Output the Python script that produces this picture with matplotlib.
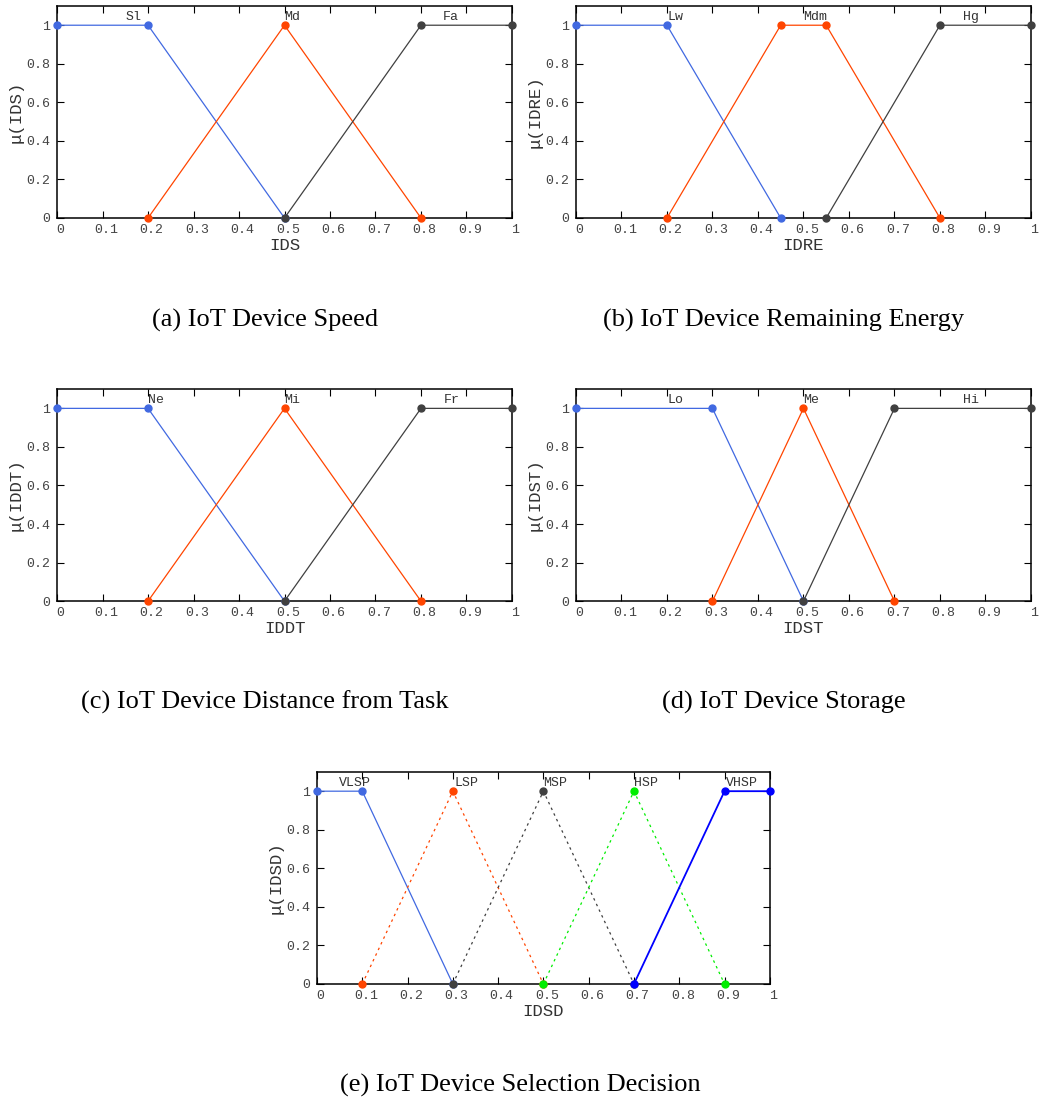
import numpy as np
import matplotlib.pyplot as plt
import matplotlib.transforms as mtransforms

plt.rcParams['font.family'] = ['Liberation Mono', 'DejaVu Sans Mono']

# -----------------------------
# Data: membership functions (x breakpoints, y values)
# -----------------------------
ids_names = ["Sl", "Md", "Fa"]
ids_x = [[0, 0.2, 0.5], [0.2, 0.5, 0.8], [0.5, 0.8, 1.0]]
ids_y = [[1, 1, 0], [0, 1, 0], [0, 1, 1]]
ids_lbl_x = [0.169, 0.517, 0.866]

idre_names = ["Lw", "Mdm", "Hg"]
idre_x = [[0, 0.2, 0.45], [0.2, 0.45, 0.55, 0.8], [0.55, 0.8, 1.0]]
idre_y = [[1, 1, 0], [0, 1, 1, 0], [0, 1, 1]]
idre_lbl_x = [0.218, 0.526, 0.868]

iddt_names = ["Ne", "Mi", "Fr"]
iddt_x = [[0, 0.2, 0.5], [0.2, 0.5, 0.8], [0.5, 0.8, 1.0]]
iddt_y = [[1, 1, 0], [0, 1, 0], [0, 1, 1]]
iddt_lbl_x = [0.218, 0.517, 0.868]

idst_names = ["Lo", "Me", "Hi"]
idst_x = [[0, 0.3, 0.5], [0.3, 0.5, 0.7], [0.5, 0.7, 1.0]]
idst_y = [[1, 1, 0], [0, 1, 0], [0, 1, 1]]
idst_lbl_x = [0.218, 0.517, 0.868]

idsd_names = ["VLSP", "LSP", "MSP", "HSP", "VHSP"]
idsd_x = [[0, 0.1, 0.3], [0.1, 0.3, 0.5], [0.3, 0.5, 0.7], [0.5, 0.7, 0.9], [0.7, 0.9, 1.0]]
idsd_y = [[1, 1, 0], [0, 1, 0], [0, 1, 0], [0, 1, 0], [0, 1, 1]]
idsd_lbl_x = [0.084, 0.33, 0.525, 0.726, 0.938]

c3 = ["#4169e1", "#ff4500", "#404040"]
c5 = ["#4169e1", "#ff4500", "#404040", "#00ee00", "#0000ff"]
ls5 = ["-", (0, (2, 3)), (0, (2, 3)), (0, (2, 3)), "-"]
lw5 = [0.9, 0.9, 0.9, 0.9, 1.3]

fig = plt.figure(figsize=(10.41, 11.01), dpi=100)


def panel(rect, xs, ys, names, lbl_x, colors, xlabel, ylabel, styles=None, widths=None):
    ax = fig.add_axes(rect)
    for i in range(len(xs)):
        ls = styles[i] if styles else "-"
        lw = widths[i] if widths else 0.9
        ax.plot(xs[i], ys[i], color=colors[i], ls=ls, lw=lw, marker="o", ms=5,
                clip_on=False, zorder=3 + i)
        ax.text(lbl_x[i], 1.045, names[i], ha="center", va="center", fontsize=9.5,
                color="#333333")
    ax.set_xlim(0, 1)
    ax.set_ylim(0, 1.1)
    ax.set_xticks(np.arange(0, 1.01, 0.1))
    ax.set_xticklabels(["0", "0.1", "0.2", "0.3", "0.4", "0.5", "0.6", "0.7", "0.8", "0.9", "1"])
    ax.set_yticks([0, 0.2, 0.4, 0.6, 0.8, 1.0])
    ax.set_yticklabels(["0", "0.2", "0.4", "0.6", "0.8", "1"])
    ax.tick_params(direction="in", top=True, right=True, length=5, width=0.8,
                   labelsize=9.5, labelcolor="#444444")
    ax.tick_params(axis="x", pad=4)
    ax.tick_params(axis="y", pad=5)
    off = mtransforms.ScaledTranslation(3.5 / 100, 0, fig.dpi_scale_trans)
    for lab in ax.get_xticklabels():
        lab.set_transform(lab.get_transform() + off)
    for s in ax.spines.values():
        s.set_linewidth(1.1)
    ax.set_xlabel(xlabel, fontsize=12.5, color="#333333", labelpad=1.5)
    ax.set_ylabel("μ(" + ylabel + ")", fontsize=12.5, color="#333333", labelpad=2)
    return ax


W = 0.437
H = 0.1926
panel([0.0548, 0.802, W, H], ids_x, ids_y, ids_names, ids_lbl_x, c3, "IDS", "IDS")
panel([0.5533, 0.802, W, H], idre_x, idre_y, idre_names, idre_lbl_x, c3, "IDRE", "IDRE")
panel([0.0548, 0.454, W, H], iddt_x, iddt_y, iddt_names, iddt_lbl_x, c3, "IDDT", "IDDT")
panel([0.5533, 0.454, W, H], idst_x, idst_y, idst_names, idst_lbl_x, c3, "IDST", "IDST")
panel([0.3045, 0.1063, 0.435, H], idsd_x, idsd_y, idsd_names, idsd_lbl_x, c5, "IDSD", "IDSD",
      styles=ls5, widths=lw5)

cap = dict(ha="center", va="center", fontsize=19, family=["Liberation Serif", "DejaVu Serif"])
fig.text(265 / 1041, 1 - 320 / 1101, "(a) IoT Device Speed", **cap)
fig.text(784 / 1041, 1 - 320 / 1101, "(b) IoT Device Remaining Energy", **cap)
fig.text(265 / 1041, 1 - 702 / 1101, "(c) IoT Device Distance from Task", **cap)
fig.text(784 / 1041, 1 - 702 / 1101, "(d) IoT Device Storage", **cap)
fig.text(520 / 1041, 1 - 1085 / 1101, "(e) IoT Device Selection Decision", **cap)

fig.savefig("out.png", dpi=100)
